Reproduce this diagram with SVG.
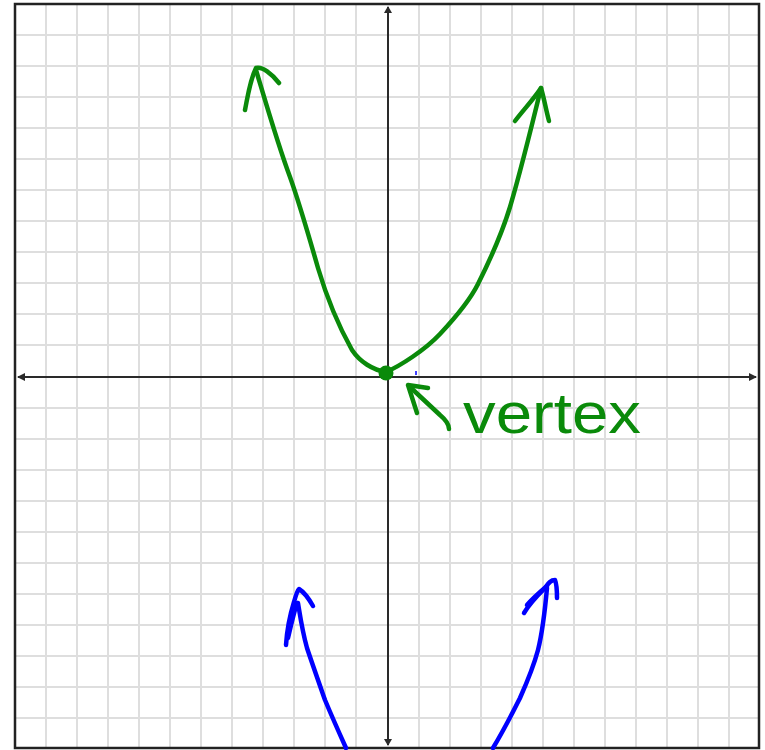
<svg xmlns="http://www.w3.org/2000/svg" width="765" height="750" viewBox="0 0 765 750">
<defs>
<style>
.grid line{stroke:#dedede;stroke-width:2}
.axis{stroke:#2a2a2a;stroke-width:2;fill:none}
.ah{fill:#2a2a2a}
.g{stroke:#0a8a0a;stroke-width:4.5;fill:none;stroke-linecap:round;stroke-linejoin:round}
.b{stroke:#0000ff;stroke-width:4.5;fill:none;stroke-linecap:round;stroke-linejoin:round}
.lbl{font-family:"Liberation Sans","DejaVu Sans",sans-serif;font-size:58px;fill:#0a8a0a}
</style>
</defs>
<rect width="765" height="750" fill="#ffffff"/>
<g id="grid" class="grid">
<line x1="46" y1="4" x2="46" y2="748"/><line x1="77" y1="4" x2="77" y2="748"/><line x1="108" y1="4" x2="108" y2="748"/><line x1="139" y1="4" x2="139" y2="748"/><line x1="170" y1="4" x2="170" y2="748"/><line x1="201" y1="4" x2="201" y2="748"/><line x1="232" y1="4" x2="232" y2="748"/><line x1="263" y1="4" x2="263" y2="748"/><line x1="294" y1="4" x2="294" y2="748"/><line x1="325" y1="4" x2="325" y2="748"/><line x1="356" y1="4" x2="356" y2="748"/><line x1="419" y1="4" x2="419" y2="748"/><line x1="450" y1="4" x2="450" y2="748"/><line x1="481" y1="4" x2="481" y2="748"/><line x1="512" y1="4" x2="512" y2="748"/><line x1="543" y1="4" x2="543" y2="748"/><line x1="574" y1="4" x2="574" y2="748"/><line x1="605" y1="4" x2="605" y2="748"/><line x1="636" y1="4" x2="636" y2="748"/><line x1="667" y1="4" x2="667" y2="748"/><line x1="698" y1="4" x2="698" y2="748"/><line x1="729" y1="4" x2="729" y2="748"/>
<line x1="15" y1="35" x2="759" y2="35"/><line x1="15" y1="66" x2="759" y2="66"/><line x1="15" y1="97" x2="759" y2="97"/><line x1="15" y1="128" x2="759" y2="128"/><line x1="15" y1="159" x2="759" y2="159"/><line x1="15" y1="190" x2="759" y2="190"/><line x1="15" y1="221" x2="759" y2="221"/><line x1="15" y1="252" x2="759" y2="252"/><line x1="15" y1="283" x2="759" y2="283"/><line x1="15" y1="314" x2="759" y2="314"/><line x1="15" y1="345" x2="759" y2="345"/><line x1="15" y1="408" x2="759" y2="408"/><line x1="15" y1="439" x2="759" y2="439"/><line x1="15" y1="470" x2="759" y2="470"/><line x1="15" y1="501" x2="759" y2="501"/><line x1="15" y1="532" x2="759" y2="532"/><line x1="15" y1="563" x2="759" y2="563"/><line x1="15" y1="594" x2="759" y2="594"/><line x1="15" y1="625" x2="759" y2="625"/><line x1="15" y1="656" x2="759" y2="656"/><line x1="15" y1="687" x2="759" y2="687"/><line x1="15" y1="718" x2="759" y2="718"/>
</g>
<g id="axes">
<line class="axis" x1="18" y1="377" x2="756" y2="377"/>
<line class="axis" x1="388" y1="7" x2="388" y2="745"/>
<path class="ah" d="M757 377 L749 373 L749 381 Z"/>
<path class="ah" d="M17 377 L25 373 L25 381 Z"/>
<path class="ah" d="M388 6 L384 13 L392 13 Z"/>
<path class="ah" d="M388 746 L384 739 L392 739 Z"/>
</g>
<rect x="15" y="4" width="744" height="744" fill="none" stroke="#222" stroke-width="2.5"/>
<g id="green-parabola">
<path class="g" d="M256 70 C265 100 278 145 290 177 C300 205 310 240 318 268 C326 295 338 325 352 350 C360 362 373 370 386 372"/>
<path class="g" d="M245 110 C248 95 250 80 256 68 C262 66 272 74 279 83"/>
<path class="g" d="M386 372 C400 366 425 350 440 334 C455 318 470 300 478 284 C486 268 500 240 510 207 C518 180 532 125 541 88"/>
<path class="g" d="M515 121 C525 108 533 100 541 88 C544 98 546 110 549 121"/>
<circle cx="386" cy="373" r="7.5" fill="#0a8a0a"/>
</g>
<g id="vertex-label">
<path class="g" d="M410 387 L440 415 C446 420 449 424 449 429"/>
<path class="g" d="M428 388 L408 385 L417 413"/>
<line x1="416" y1="371" x2="416" y2="375" stroke="#0000ff" stroke-width="1.5"/>
<text class="lbl" x="463" y="433" textLength="178" lengthAdjust="spacingAndGlyphs">vertex</text>
</g>
<g id="blue-curves">
<path class="b" d="M346 748 C337 728 330 712 325 700 C318 680 312 663 307 648 C302 630 300 615 298 603"/>
<path class="b" d="M286 645 C287 630 290 615 294 602 C296 595 297 591 299 589 C304 592 309 599 313 606"/>
<path class="b" d="M288 638 C291 625 294 612 297 603"/>
<path class="b" d="M493 748 C505 728 513 712 520 698 C528 680 534 665 538 650 C543 630 545 610 547 588"/>
<path class="b" d="M524 613 C530 603 537 596 545 588 C548 584 550 580 555 580 C557 585 557 592 557 598"/>
<path class="b" d="M527 605 C533 598 540 592 547 586"/>
</g>
</svg>
